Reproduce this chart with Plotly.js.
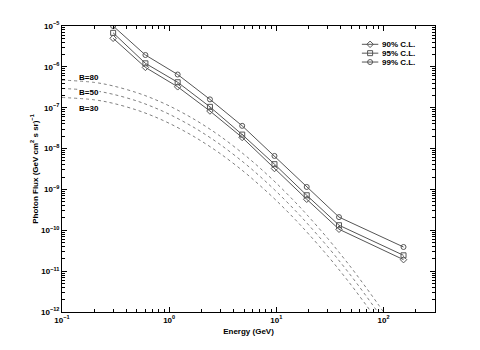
<!DOCTYPE html>
<html>
<head>
<meta charset="utf-8">
<script src="https://cdn.plot.ly/plotly-3.0.1.min.js"></script>
<style>
  html, body { margin: 0; padding: 0; background: #fff; }
  #plotArea { width: 480px; height: 350px; }
</style>
</head>
<body>
<div id="plotArea"></div>
<script>
// energies of the upper limit points (GeV)
var energy = [0.3, 0.6, 1.2, 2.4, 4.8, 9.6, 19.2, 38.4, 153.6];
var cl90 = [5.0e-6, 9.7e-7, 3.25e-7, 8.3e-8, 1.87e-8, 3.25e-9, 5.75e-10, 1.06e-10, 1.91e-11];
var cl95 = [6.8e-6, 1.22e-6, 4.2e-7, 1.05e-7, 2.2e-8, 4.15e-9, 7.2e-10, 1.33e-10, 2.44e-11];
var cl99 = [1.0e-5, 1.95e-6, 6.5e-7, 1.6e-7, 3.6e-8, 6.6e-9, 1.15e-9, 2.1e-10, 3.9e-11];
var clNames = ['90% C.L.', '95% C.L.', '99% C.L.'];
var clSymbols = ['diamond-open', 'square-open', 'circle-open'];

// model curves (dotted)
var modelE = [0.1, 0.2, 0.3, 0.5, 0.7, 1, 1.5, 2, 3, 5, 7, 10, 15, 20, 30, 40, 50, 60, 70, 80, 90, 100];
var b80 = [4.74e-7, 4.16e-7, 3.41e-7, 2.33e-7, 1.68e-7, 1.11e-7, 6.35e-8, 4.06e-8, 2.00e-8, 7.16e-9, 3.37e-9, 1.42e-9,
           4.88e-10, 2.16e-10, 6.40e-11, 2.54e-11, 1.21e-11, 6.41e-12, 3.71e-12, 2.29e-12, 1.48e-12, 9.95e-13];
var b50 = [2.96e-7, 2.60e-7, 2.13e-7, 1.46e-7, 1.05e-7, 6.94e-8, 3.97e-8, 2.54e-8, 1.25e-8, 4.48e-9, 2.11e-9, 8.88e-10,
           3.05e-10, 1.35e-10, 4.00e-11, 1.59e-11, 7.56e-12, 4.01e-12, 2.32e-12, 1.43e-12, 9.25e-13, 6.22e-13];
var b30 = [1.78e-7, 1.56e-7, 1.28e-7, 8.74e-8, 6.30e-8, 4.16e-8, 2.38e-8, 1.52e-8, 7.50e-9, 2.69e-9, 1.26e-9, 5.33e-10,
           1.83e-10, 8.10e-11, 2.40e-11, 9.53e-12, 4.54e-12, 2.40e-12, 1.39e-12, 8.59e-13, 5.55e-13, 3.73e-13];
var modelNames = ['B=80', 'B=50', 'B=30'];

var xTicks = [0.1, 1, 10, 100];
var xTickText = ['10<sup>\u22121</sup>', '10<sup>0</sup>', '10<sup>1</sup>', '10<sup>2</sup>'];
var yTicks = [1e-12, 1e-11, 1e-10, 1e-9, 1e-8, 1e-7, 1e-6, 1e-5];
var yTickText = ['10<sup>\u221212</sup>', '10<sup>\u221211</sup>', '10<sup>\u221210</sup>', '10<sup>\u22129</sup>',
                 '10<sup>\u22128</sup>', '10<sup>\u22127</sup>', '10<sup>\u22126</sup>', '10<sup>\u22125</sup>'];

var lineCol = '#555';
var fnt = {family: 'Liberation Sans, Arial, sans-serif', size: 8, color: '#000', weight: 'bold'};

function clTrace(y, i) {
    return {
        x: energy, y: y, name: clNames[i], type: 'scatter', mode: 'lines+markers', showlegend: false,
        line: {color: lineCol, width: 1},
        marker: {symbol: clSymbols[i], size: 5, color: lineCol, line: {color: lineCol, width: 1}}
    };
}
function modelTrace(y) {
    return {
        x: modelE, y: y, type: 'scatter', mode: 'lines', showlegend: false,
        line: {color: '#808080', width: 1, dash: 'dot', shape: 'spline'}
    };
}

var data = [
    clTrace(cl90, 0), clTrace(cl95, 1), clTrace(cl99, 2),
    modelTrace(b80), modelTrace(b50), modelTrace(b30)
];

// hand-made legend on an invisible overlay axis (plotly's own rows are too tall)
var legY = [0.936, 0.905, 0.874];
clNames.forEach(function (n, i) {
    data.push({
        x: [0.804, 0.826, 0.848], y: [legY[i], legY[i], legY[i]], xaxis: 'x2', yaxis: 'y2',
        type: 'scatter', mode: 'lines', showlegend: false, hoverinfo: 'skip',
        line: {color: lineCol, width: 1}
    });
    data.push({
        x: [0.826], y: [legY[i]], xaxis: 'x2', yaxis: 'y2',
        type: 'scatter', mode: 'markers', showlegend: false, hoverinfo: 'skip',
        marker: {symbol: clSymbols[i], size: 5, color: lineCol, line: {color: lineCol, width: 1}}
    });
});

// curve labels
var labelY = [5.6e-7, 2.41e-7, 9.77e-8];
var annotations = modelNames.map(function (t, i) {
    return {x: Math.log10(0.142), y: Math.log10(labelY[i]), text: t, showarrow: false,
            xanchor: 'left', yanchor: 'middle', font: fnt, borderpad: 0,
            bgcolor: i === 1 ? '#fff' : 'rgba(0,0,0,0)'};
});
clNames.forEach(function (n, i) {
    annotations.push({xref: 'paper', yref: 'paper', x: 0.853, y: legY[i], text: n, showarrow: false,
                      xanchor: 'left', yanchor: 'middle', font: fnt});
});

var axisCommon = {
    type: 'log', showline: true, linecolor: '#000', linewidth: 1, mirror: 'ticks',
    ticks: 'inside', ticklen: 5, tickcolor: '#000', tickmode: 'array',
    showgrid: false, zeroline: false, tickfont: fnt,
    minor: {ticks: 'inside', ticklen: 3, tickcolor: '#000', dtick: 'D1', showgrid: false}
};
var hiddenAxis = {range: [0, 1], visible: false, showgrid: false, zeroline: false, fixedrange: true};

var layout = {
    width: 480, height: 350,
    margin: {l: 62, r: 45, t: 26, b: 38},
    paper_bgcolor: '#fff', plot_bgcolor: '#fff',
    showlegend: false,
    xaxis: Object.assign({}, axisCommon, {
        range: [-1, 2.48], tickvals: xTicks, ticktext: xTickText,
        title: {text: 'Energy (GeV)', font: fnt, standoff: 4}
    }),
    yaxis: Object.assign({}, axisCommon, {
        range: [-12, -5], tickvals: yTicks, ticktext: yTickText,
        title: {text: 'Photon Flux (GeV cm<sup>2</sup> s sr)<sup>\u22121</sup>', font: fnt, standoff: 1}
    }),
    xaxis2: Object.assign({overlaying: 'x'}, hiddenAxis),
    yaxis2: Object.assign({overlaying: 'y'}, hiddenAxis),
    annotations: annotations
};

Plotly.newPlot('plotArea', data, layout, {staticPlot: true});
</script>
</body>
</html>
